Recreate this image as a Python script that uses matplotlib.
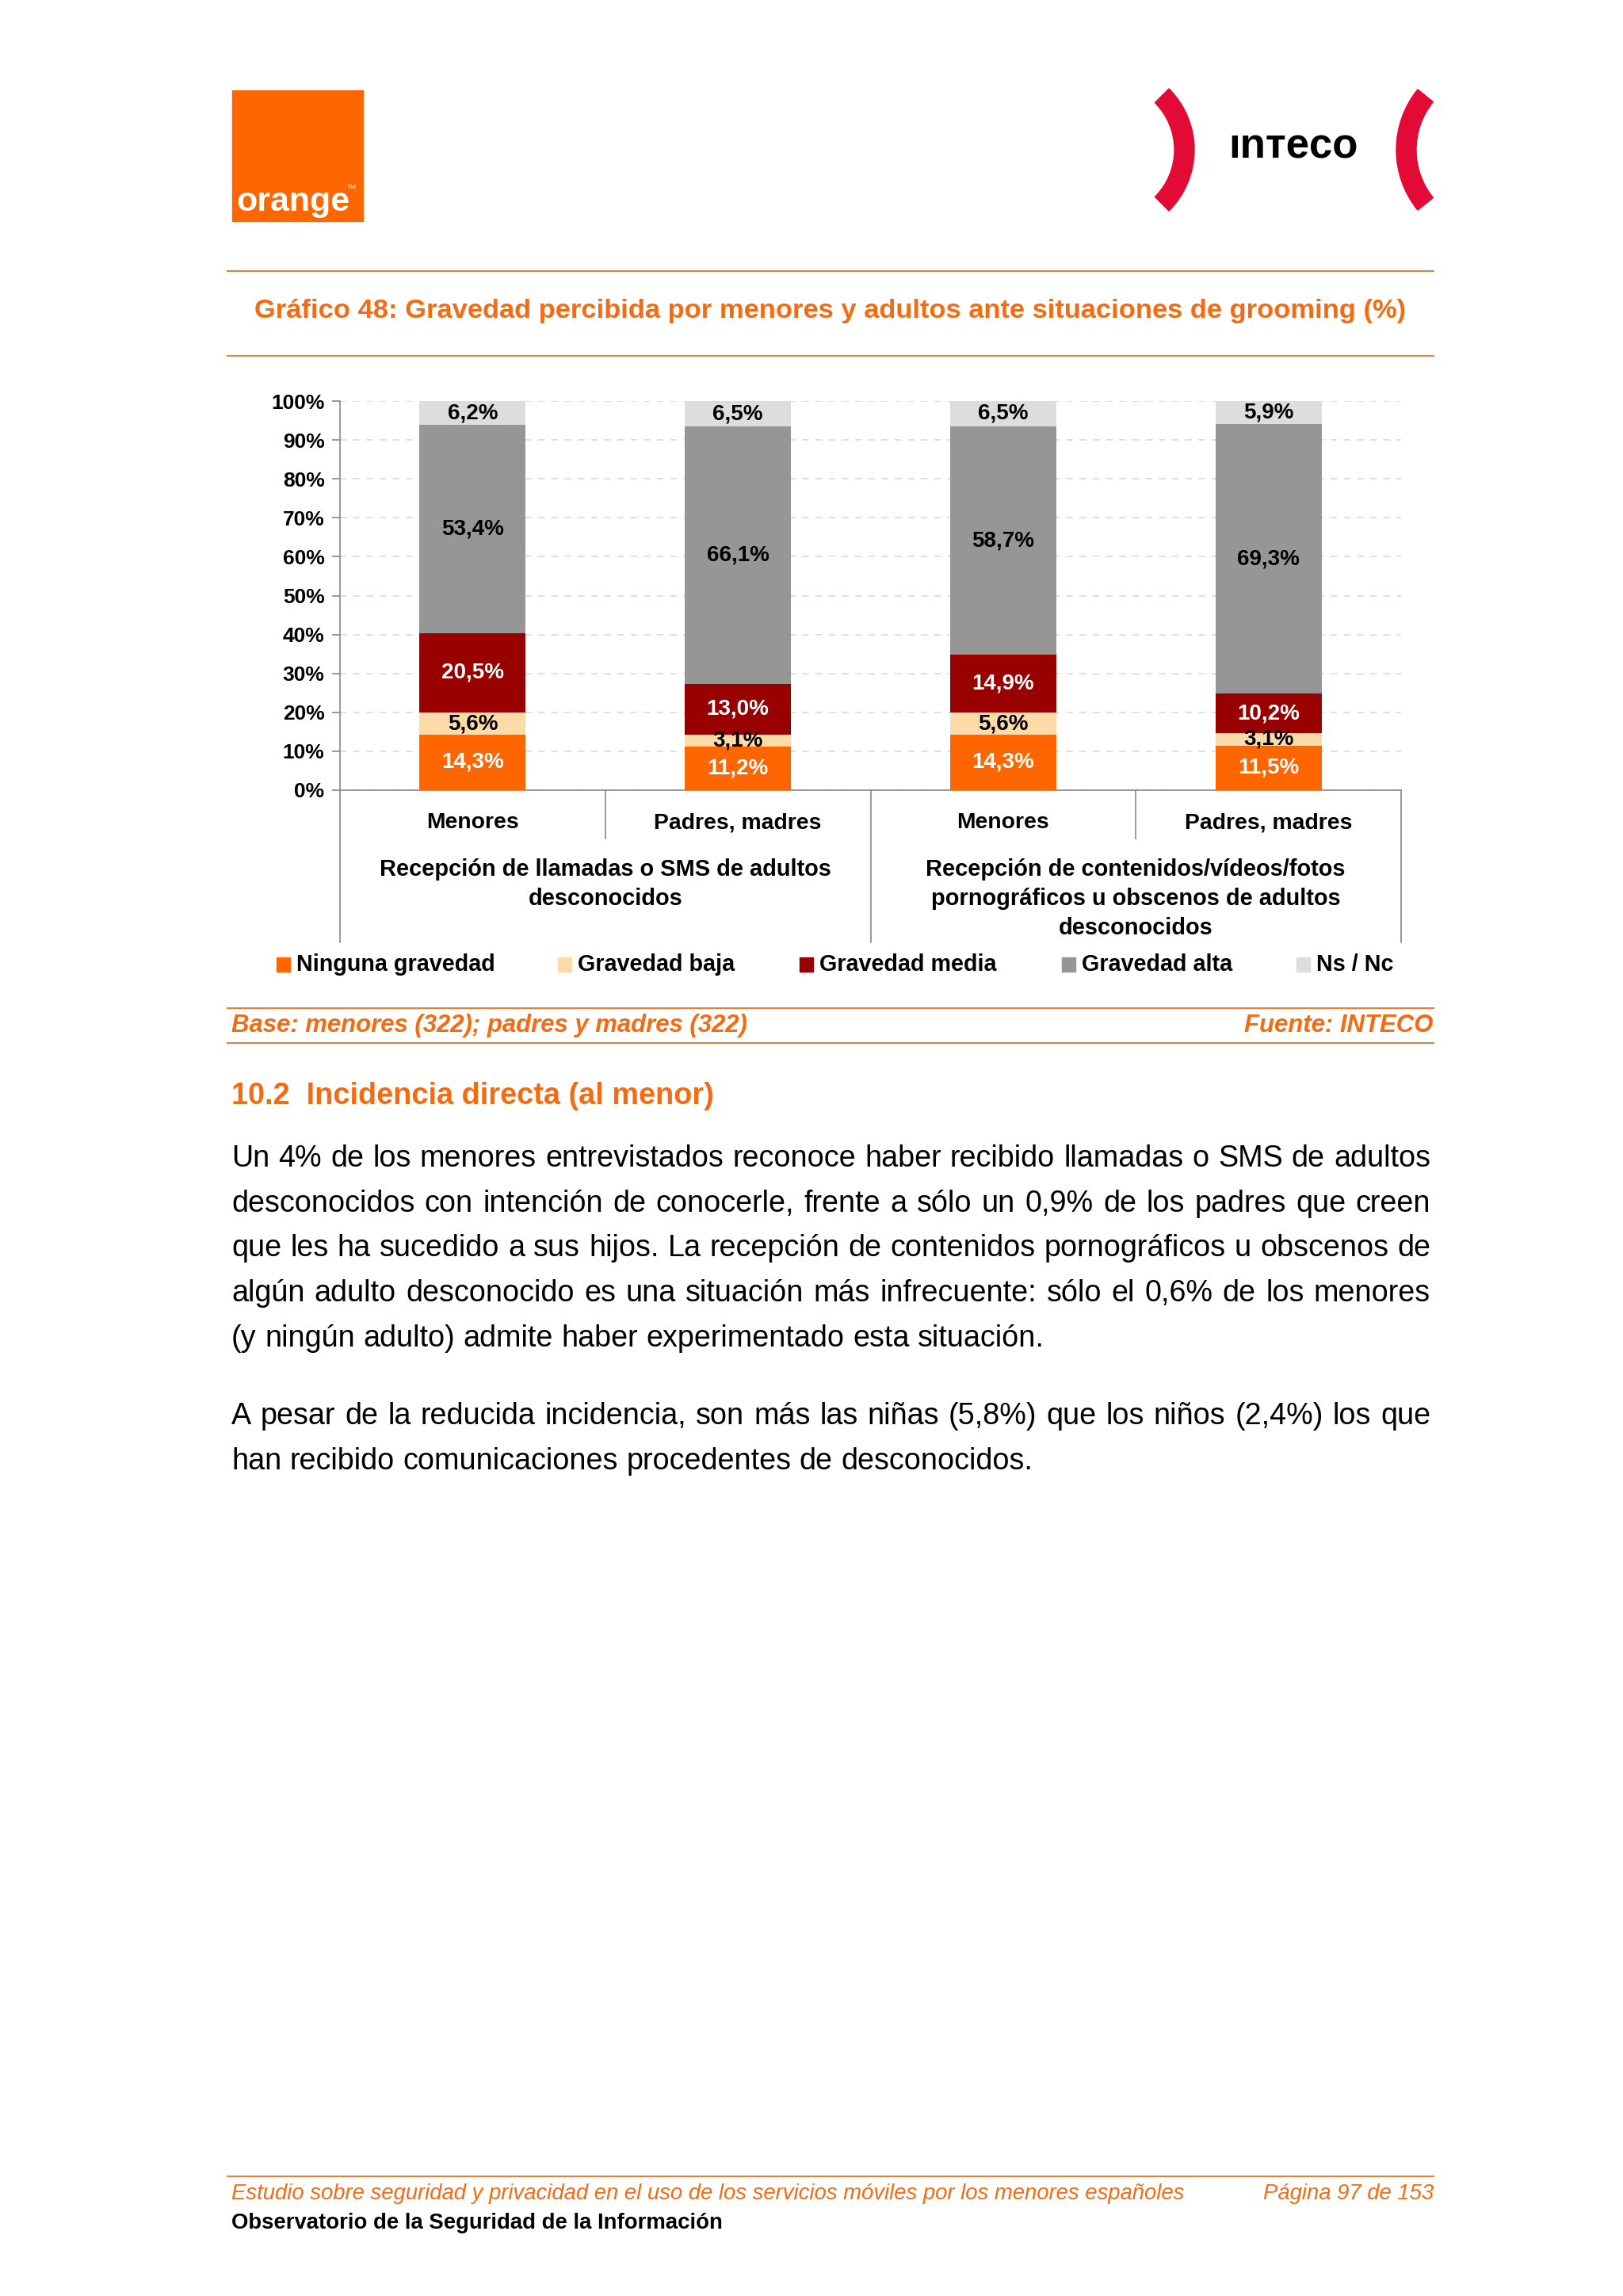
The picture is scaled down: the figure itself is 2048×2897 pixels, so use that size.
import matplotlib
matplotlib.use('Agg')
import matplotlib.pyplot as plt
import numpy as np
from matplotlib.patches import Rectangle, Wedge

plt.rcParams['font.family'] = ['Liberation Sans', 'DejaVu Sans']

# ---- data ----
subcats = ['Menores', 'Padres, madres', 'Menores', 'Padres, madres']
groups = [['Recepción de llamadas o SMS de adultos', 'desconocidos'],
          ['Recepción de contenidos/vídeos/fotos', 'pornográficos u obscenos de adultos', 'desconocidos']]
series = ['Ninguna gravedad', 'Gravedad baja', 'Gravedad media', 'Gravedad alta', 'Ns / Nc']
ninguna = [14.3, 11.2, 14.3, 11.5]
baja = [5.6, 3.1, 5.6, 3.1]
media = [20.5, 13.0, 14.9, 10.2]
alta = [53.4, 66.1, 58.7, 69.3]
nsnc = [6.2, 6.5, 6.5, 5.9]
values = [ninguna, baja, media, alta, nsnc]
colors = ['#FF6600', '#FDDBA8', '#990000', '#969696', '#DDDDDD']
label_colors = ['white', 'black', 'white', 'black', 'black']
yticks = list(range(0, 101, 10))

para1 = ['Un 4% de los menores entrevistados reconoce haber recibido llamadas o SMS de adultos',
         'desconocidos con intención de conocerle, frente a sólo un 0,9% de los padres que creen',
         'que les ha sucedido a sus hijos. La recepción de contenidos pornográficos u obscenos de',
         'algún adulto desconocido es una situación más infrecuente: sólo el 0,6% de los menores',
         '(y ningún adulto) admite haber experimentado esta situación.']
para2 = ['A pesar de la reducida incidencia, son más las niñas (5,8%) que los niños (2,4%) los que',
         'han recibido comunicaciones procedentes de desconocidos.']

ORANGE = '#FF6600'
TXT_OR = '#F66A12'
LINE_OR = '#F07A2A'

W, H = 2048, 2897
fig = plt.figure(figsize=(W / 100, H / 100), dpi=100)
fig.patch.set_facecolor('white')
page = fig.add_axes([0, 0, 1, 1])
page.set_xlim(0, W)
page.set_ylim(H, 0)
page.axis('off')

# ---- header logos ----
page.add_patch(Rectangle((293, 114), 165, 165, color=ORANGE))
page.text(298, 266, 'orange', color='white', fontsize=31, fontweight='bold', va='baseline', ha='left')
page.text(438, 236, 'TM', color='white', fontsize=6, va='center', ha='left')
red = '#E30A36'
page.add_patch(Wedge((1398, 189), 109, -45, 45, width=25, color=red))
page.add_patch(Wedge((1883, 189), 121, 141, 219, width=25, color=red))
page.text(1632, 186, 'ınтeco', color='black', fontsize=38, fontweight='bold', ha='center', va='center')

# ---- title block ----
for yl in [342, 449, 1272, 1316, 2746]:
    page.plot([287, 1809], [yl, yl], color=LINE_OR, lw=1.4)
page.text(1048, 393, 'Gráfico 48: Gravedad percibida por menores y adultos ante situaciones de grooming (%)',
          color=TXT_OR, fontsize=24.8, fontweight='bold', ha='center', va='center')

# ---- chart ----
ax = fig.add_axes([429 / W, 1 - 997 / H, 1339 / W, 491 / H])
x = np.arange(len(subcats))
bottom = np.zeros(len(subcats))
for vals, col, tcol in zip(values, colors, label_colors):
    vals = np.array(vals)
    ax.bar(x, vals, 0.4, bottom=bottom, color=col, edgecolor='none', zorder=3)
    for xi, v, b in zip(x, vals, bottom):
        ax.text(xi, b + v / 2, f'{v:.1f}%'.replace('.', ','), ha='center', va='center',
                color=tcol, fontsize=20, fontweight='bold', zorder=4)
    bottom += vals

ax.set_xlim(-0.5, 3.5)
ax.set_ylim(0, 100)
ax.set_yticks(yticks)
ax.set_yticklabels([f'{t}%' for t in yticks], fontsize=19, fontweight='bold')
ax.set_xticks([])
ax.tick_params(axis='y', length=7, width=1.2, color='#888888', pad=7)
ax.yaxis.grid(True, linestyle=(0, (5, 5)), color='#DADADA', lw=1.2, zorder=0)
for s in ['top', 'right']:
    ax.spines[s].set_visible(False)
for s in ['left', 'bottom']:
    ax.spines[s].set_color('#888888')
    ax.spines[s].set_linewidth(1.2)

tr = ax.get_xaxis_transform()
for xi, lab in zip(x, subcats):
    ax.text(xi, -41 / 491, lab, transform=tr, ha='center', va='center', fontsize=20.4, fontweight='bold')
for gi, lines in enumerate(groups):
    for li, ln in enumerate(lines):
        ax.text(2 * gi + 0.5, -(100 + 37 * li) / 491, ln, transform=tr, ha='center', va='center',
                fontsize=20.9, fontweight='bold')
for xs, depth in [(-0.5, 192), (0.5, 61), (1.5, 192), (2.5, 61), (3.5, 192)]:
    ax.plot([xs, xs], [0, -depth / 491], transform=tr, color='#888888', lw=1.2, clip_on=False)

# legend
leg_x = [374, 729, 1034, 1365, 1661]
for lx, name, col in zip(leg_x, series, colors):
    page.add_patch(Rectangle((lx - 25, 1208), 17, 18, color=col))
    page.text(lx, 1217, name, fontsize=20.7, fontweight='bold', va='center', ha='left')

page.text(292, 1294, 'Base: menores (322); padres y madres (322)', color=TXT_OR, fontsize=22.4,
          fontweight='bold', style='italic', va='center', ha='left')
page.text(1809, 1294, 'Fuente: INTECO', color=TXT_OR, fontsize=22.4,
          fontweight='bold', style='italic', va='center', ha='right')

# ---- body ----
page.text(292, 1383, '10.2  Incidencia directa (al menor)', color=TXT_OR, fontsize=27.3,
          fontweight='bold', va='center', ha='left')

renderer = fig.canvas.get_renderer()
x0, x1 = 292, 1805
body_fs = 27.2


def put_line(y, line, justify):
    words = line.split(' ')
    texts = [page.text(0, y, w, fontsize=body_fs, va='baseline', ha='left') for w in words]
    widths = [t.get_window_extent(renderer).width for t in texts]
    if justify and len(words) > 1:
        gap = (x1 - x0 - sum(widths)) / (len(words) - 1)
    else:
        a = page.text(0, 0, 'a a', fontsize=body_fs)
        b = page.text(0, 0, 'aa', fontsize=body_fs)
        gap = a.get_window_extent(renderer).width - b.get_window_extent(renderer).width
        a.remove()
        b.remove()
    pos = x0
    for t, w in zip(texts, widths):
        t.set_x(pos)
        pos += w + gap


for i, ln in enumerate(para1):
    put_line(1472 + 56.7 * i, ln, i < len(para1) - 1)
for i, ln in enumerate(para2):
    put_line(1797 + 56.7 * i, ln, i < len(para2) - 1)

# ---- footer ----
page.text(292, 2768, 'Estudio sobre seguridad y privacidad en el uso de los servicios móviles por los menores españoles',
          color=TXT_OR, fontsize=19.8, style='italic', va='center', ha='left')
page.text(1809, 2768, 'Página 97 de 153', color=TXT_OR, fontsize=19.8, style='italic', va='center', ha='right')
page.text(292, 2805, 'Observatorio de la Seguridad de la Información', color='black', fontsize=19.8,
          fontweight='bold', va='center', ha='left')

fig.savefig('out.png', dpi=100, facecolor='white')
